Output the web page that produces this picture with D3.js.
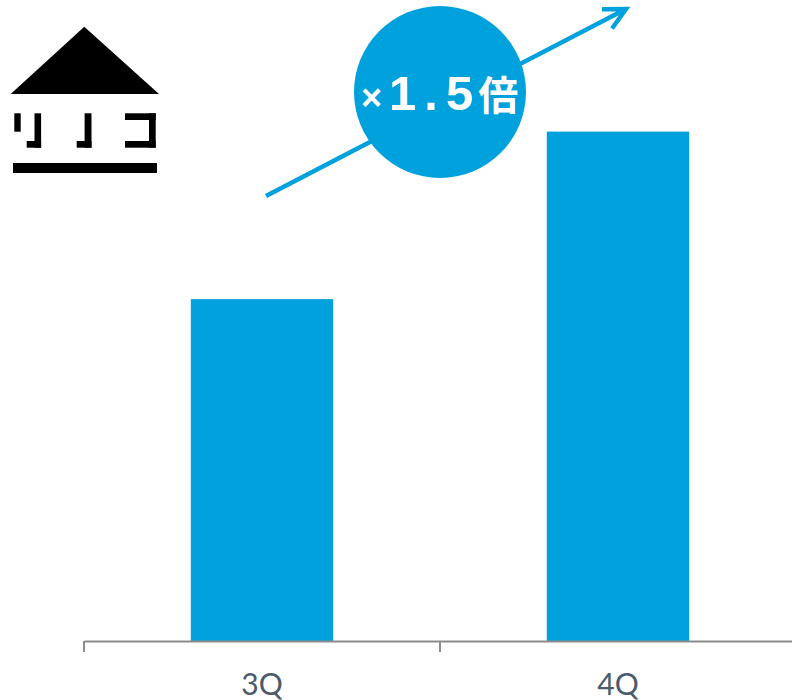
<!DOCTYPE html>
<html>
<head>
<meta charset="utf-8">
<script src="https://cdn.jsdelivr.net/npm/d3@7"></script>
<style>
  html, body { margin: 0; padding: 0; background: #fff; }
  svg { display: block; }
</style>
</head>
<body>
<svg id="chart" width="792" height="700"></svg>
<script>
// Quarterly figures (3Q is the base, 4Q grew by about 1.5x)
const categories = ["3Q", "4Q"];
const values = [100, 149];
const growthLabel = { mark: "×", number: "1.5", unit: "倍" };

const BLUE = "#00A1DC";
const W = 792, H = 700;
const margin = { left: 84, right: -4, baseline: 641 };

const svg = d3.select("#chart");

const x = d3.scaleBand()
  .domain(categories)
  .range([margin.left, W - margin.right])
  .padding(0);

const y = d3.scaleLinear()
  .domain([0, 187.5])
  .range([margin.baseline, 0]);

const barWidth = x.bandwidth() * 0.4;

// Bars
svg.append("g")
  .selectAll("rect")
  .data(categories.map((c, i) => ({ c, v: values[i] })))
  .join("rect")
  .attr("x", d => x(d.c) + (x.bandwidth() - barWidth) / 2)
  .attr("y", d => y(d.v))
  .attr("width", barWidth)
  .attr("height", d => y(0) - y(d.v))
  .attr("fill", BLUE);

// Category axis: labels centered in each band, ticks on band boundaries
const axis = svg.append("g")
  .attr("transform", `translate(0,${margin.baseline})`)
  .call(d3.axisBottom(x).tickSize(0).tickPadding(33));
axis.select(".domain").attr("stroke", "#8c8c8c").attr("stroke-width", 2);
axis.selectAll(".tick text")
  .attr("font-family", "Lato, 'Noto Sans', sans-serif")
  .attr("font-size", 30)
  .attr("fill", "#4b5b6d");

const boundaries = categories.map(c => x(c)).concat([x.range()[1]]);
axis.selectAll(".boundary")
  .data(boundaries)
  .join("line")
  .attr("class", "boundary")
  .attr("x1", d => d).attr("x2", d => d)
  .attr("y1", 0).attr("y2", 11)
  .attr("stroke", "#8c8c8c")
  .attr("stroke-width", 2);

// Growth arrow, drawn beneath the badge
const arrow = { x1: 266, y1: 196, x2: 626, y2: 9, head: 24, spread: 27 * Math.PI / 180 };
const ang = Math.atan2(arrow.y1 - arrow.y2, arrow.x1 - arrow.x2);
const p = d3.path();
p.moveTo(arrow.x1, arrow.y1);
p.lineTo(arrow.x2, arrow.y2);
p.moveTo(arrow.x2 + arrow.head * Math.cos(ang - arrow.spread), arrow.y2 + arrow.head * Math.sin(ang - arrow.spread));
p.lineTo(arrow.x2, arrow.y2);
p.lineTo(arrow.x2 + arrow.head * Math.cos(ang + arrow.spread), arrow.y2 + arrow.head * Math.sin(ang + arrow.spread));
svg.append("path")
  .attr("d", p.toString())
  .attr("fill", "none")
  .attr("stroke", BLUE)
  .attr("stroke-width", 4.5)
  .attr("stroke-linejoin", "miter");

// Badge
svg.append("circle")
  .attr("cx", 440).attr("cy", 92).attr("r", 86)
  .attr("fill", BLUE);

const badge = svg.append("text")
  .attr("x", 361).attr("y", 110)
  .attr("fill", "#fff")
  .attr("font-weight", "bold");
badge.append("tspan")
  .attr("font-family", "'Liberation Sans', Arial, sans-serif")
  .attr("font-size", 36)
  .text(growthLabel.mark);
badge.append("tspan")
  .attr("dx", 7)
  .attr("font-family", "'Liberation Sans', Arial, sans-serif")
  .attr("font-size", 49)
  .attr("letter-spacing", 8)
  .text(growthLabel.number);
badge.append("tspan")
  .attr("dx", -3)
  .attr("font-family", "'Noto Sans CJK JP', sans-serif")
  .attr("font-size", 40)
  .text(growthLabel.unit);

// Brand mark: house roof, blocky katakana, underline
const logo = svg.append("g").attr("fill", "#000");
logo.append("path").attr("d", "M84.3,26.7 L159,94 L10.7,94 Z");
const blocks = [
  // リ
  [14.3, 113.3, 6.4, 18.4], [34.5, 113.3, 6.6, 34.4], [26.7, 141, 14.4, 6.7],
  // ノ
  [84.6, 113.3, 6.9, 34.4], [76.7, 141, 14.8, 6.7],
  // コ
  [125, 113.3, 30.7, 6.7], [149, 113.3, 6.7, 34.4], [125, 141, 30.7, 6.7],
  // underline
  [13, 163, 144, 10]
];
logo.selectAll("rect")
  .data(blocks)
  .join("rect")
  .attr("x", d => d[0]).attr("y", d => d[1])
  .attr("width", d => d[2]).attr("height", d => d[3]);
logo.append("title").text("リノコ");
</script>
</body>
</html>
